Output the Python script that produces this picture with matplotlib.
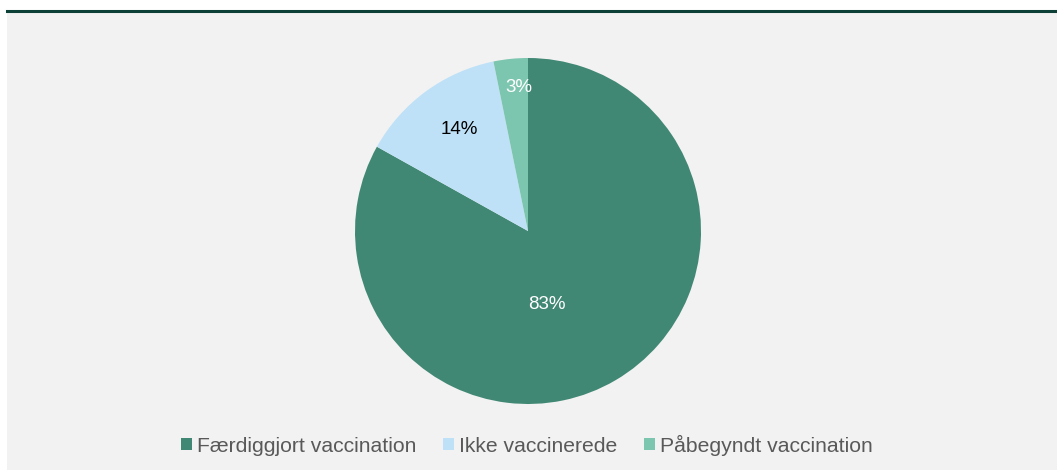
import matplotlib
matplotlib.use("Agg")
import matplotlib.pyplot as plt
import numpy as np
from matplotlib.patches import Rectangle
from matplotlib.lines import Line2D

categories = ["Færdiggjort vaccination", "Ikke vaccinerede", "Påbegyndt vaccination"]
values = [83.1, 13.7, 3.2]
labels = ["83%", "14%", "3%"]
colors = ["#418874", "#bfe1f7", "#7cc5ae"]
label_colors = ["white", "black", "white"]

plt.rcParams['font.family'] = ['Liberation Sans', 'DejaVu Sans']

W, H = 1057, 470
fig = plt.figure(figsize=(W / 100, H / 100), dpi=100)
fig.patch.set_facecolor("white")

# background panel and top rule
fig.patches.append(Rectangle((7 / W, 0), 1 - 7 / W, (H - 12) / H, transform=fig.transFigure,
                             facecolor="#f2f2f2", edgecolor="none", zorder=-2))
fig.lines.append(Line2D([7 / W, 1], [(H - 11) / H, (H - 11) / H], transform=fig.transFigure,
                        color="#0d4036", linewidth=2.2, zorder=-1))

cx, cy, r = 528, 231, 173
ax = fig.add_axes([(cx - r) / W, (H - cy - r) / H, 2 * r / W, 2 * r / H])
ax.set_facecolor("none")
ax.set_zorder(2)

wedges, _ = ax.pie(values, colors=colors, startangle=90, counterclock=False,
                   wedgeprops=dict(linewidth=0))
ax.set_xlim(-1, 1)
ax.set_ylim(-1, 1)

dists = [0.44, 0.71, 0.83]
angle_shift = [16, 2.3, 2.0]
for w, lab, col, d, s in zip(wedges, labels, label_colors, dists, angle_shift):
    ang = np.deg2rad((w.theta1 + w.theta2) / 2 - s)
    ax.text(d * np.cos(ang), d * np.sin(ang), lab, ha="center", va="center",
            color=col, fontsize=13.5)

handles = [Rectangle((0, 0), 1, 1, facecolor=c, edgecolor="none") for c in colors]
leg = fig.legend(handles, categories, loc="center", bbox_to_anchor=(527 / W, (H - 445) / H),
                 ncol=3, frameon=False, fontsize=15.2, handlelength=0.52, handleheight=0.52,
                 handletextpad=0.25, columnspacing=1.25, borderaxespad=0)
for t in leg.get_texts():
    t.set_color("#595959")

fig.savefig("out.png", dpi=100, facecolor=fig.get_facecolor())
